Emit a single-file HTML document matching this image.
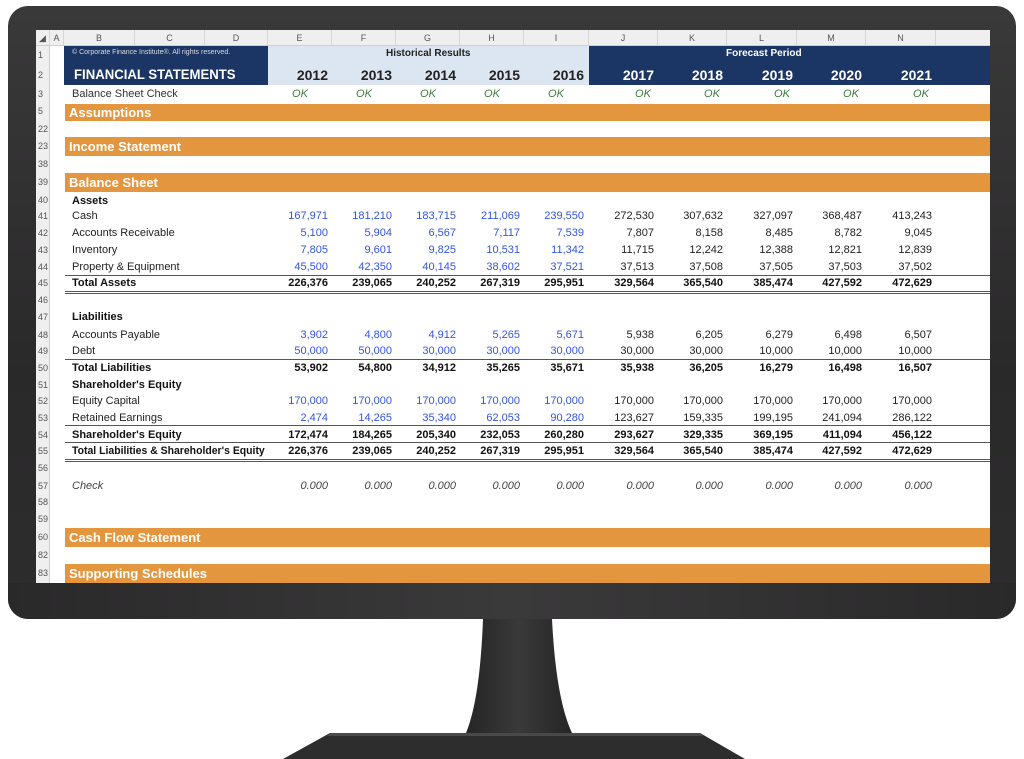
<!DOCTYPE html>
<html><head><meta charset="utf-8"><style>
*{margin:0;padding:0;box-sizing:border-box}
body{width:1024px;height:759px;background:#fff;position:relative;overflow:hidden;font-family:"Liberation Sans",Arial,sans-serif}
.a{position:absolute}
#bezel{left:8px;top:6px;width:1008px;height:613px;border-radius:20px;background:linear-gradient(#3a393a,#2a292a 60%,#2e2d2e);}
#chin{left:8px;top:583px;width:1008px;height:36px;border-radius:0 0 20px 20px;background:linear-gradient(90deg,#2a292a,#3b3a3b 50%,#2a292a)}
#screen{left:36px;top:30px;width:954px;height:553px;background:#fff;overflow:hidden}
.hdr{top:0;height:16px;background:#efefef;border-bottom:1px solid #cfcfcf;border-right:1px solid #d6d6d6;font-size:9px;color:#555;text-align:center;line-height:16px}
.rn{left:0;width:14px;font-size:9px;color:#555;text-align:left;padding-left:2px}
.row{position:absolute;left:0;width:954px;height:16px;line-height:16px;font-size:11px;color:#222}
.row span{position:absolute;text-align:right;width:80px}
.row span.rn{left:0;width:14px;text-align:left;font-size:9px;color:#555;font-weight:normal;font-style:normal}
.lbl{left:36px}
.b{font-weight:bold;color:#111}
.bl{color:#3355dd}
.it{font-style:italic;color:#444}
.or{left:29px;width:925px;background:#e3963e;color:#fff;font-weight:bold;font-size:13px;padding-left:4px}
.ln{position:absolute;left:29px;width:925px;height:1px;background:#555}
</style></head><body>
<div class="a" id="bezel"></div>
<div class="a" id="chin"></div>
<svg class="a" style="left:0;top:619px" width="1024" height="140">
<defs><linearGradient id="g" x1="0" x2="1"><stop offset="0" stop-color="#262526"/><stop offset=".5" stop-color="#3a393a"/><stop offset="1" stop-color="#262526"/></linearGradient></defs>
<path d="M483 0 L552 0 Q556 80 572 114 L466 114 Q480 80 483 0Z" fill="url(#g)"/>
<path d="M330 114 L700 114 L745 140 L283 140Z" fill="#2e2d2e"/>
<path d="M330 114 L700 114 L703 117 L327 117Z" fill="#4a494a"/>
</svg>
<div class="a" id="screen">
<div class="a" style="left:0;top:0;width:954px;height:16px;background:#efefef;border-bottom:1px solid #cfcfcf"></div>
<div class="a hdr" style="left:0;width:14px">◢</div>
<div class="a hdr" style="left:14px;width:14px">A</div>
<div class="a hdr" style="left:28px;width:71px">B</div>
<div class="a hdr" style="left:99px;width:70px">C</div>
<div class="a hdr" style="left:169px;width:63px">D</div>
<div class="a hdr" style="left:232px;width:64px">E</div>
<div class="a hdr" style="left:296px;width:64px">F</div>
<div class="a hdr" style="left:360px;width:64px">G</div>
<div class="a hdr" style="left:424px;width:64px">H</div>
<div class="a hdr" style="left:488px;width:65px">I</div>
<div class="a hdr" style="left:553px;width:69px">J</div>
<div class="a hdr" style="left:622px;width:69px">K</div>
<div class="a hdr" style="left:691px;width:70px">L</div>
<div class="a hdr" style="left:761px;width:69px">M</div>
<div class="a hdr" style="left:830px;width:70px">N</div>
<div class="a" style="left:0;top:16px;width:14px;height:537px;background:#efefef;border-right:1px solid #cfcfcf"></div>
<div class="a" style="left:28px;top:16px;width:204px;height:39px;background:#1b3564"></div>
<div class="a" style="left:232px;top:16px;width:321px;height:39px;background:#dce6f2"></div>
<div class="a" style="left:553px;top:16px;width:401px;height:39px;background:#1b3564"></div>
<div class="a" style="left:36px;top:19px;font-size:7px;color:#ddd">© Corporate Finance Institute®. All rights reserved.</div>
<div class="a" style="left:38px;top:36px;font-size:14px;font-weight:bold;color:#fff;transform:scaleX(0.94);transform-origin:left">FINANCIAL STATEMENTS</div>
<div class="a" style="left:350px;top:18px;font-size:10px;font-weight:bold;color:#222">Historical Results</div>
<div class="a" style="left:690px;top:18px;font-size:10px;font-weight:bold;color:#fff">Forecast Period</div>
<div class="row" style="top:36px;font-size:14px;font-weight:bold;height:18px;line-height:18px"><span style="left:212px;color:#222">2012</span><span style="left:276px;color:#222">2013</span><span style="left:340px;color:#222">2014</span><span style="left:404px;color:#222">2015</span><span style="left:468px;color:#222">2016</span><span style="left:538px;color:#fff">2017</span><span style="left:607px;color:#fff">2018</span><span style="left:677px;color:#fff">2019</span><span style="left:746px;color:#fff">2020</span><span style="left:816px;color:#fff">2021</span></div>
<div class="row" style="top:56px;color:#333"><span class="rn">3</span><span class="lbl" style="text-align:left;width:150px">Balance Sheet Check</span><span class="it" style="left:244px;width:40px;text-align:center;color:#3a7a3a">OK</span><span class="it" style="left:308px;width:40px;text-align:center;color:#3a7a3a">OK</span><span class="it" style="left:372px;width:40px;text-align:center;color:#3a7a3a">OK</span><span class="it" style="left:436px;width:40px;text-align:center;color:#3a7a3a">OK</span><span class="it" style="left:500px;width:40px;text-align:center;color:#3a7a3a">OK</span><span class="it" style="left:587px;width:40px;text-align:center;color:#3a7a3a">OK</span><span class="it" style="left:656px;width:40px;text-align:center;color:#3a7a3a">OK</span><span class="it" style="left:726px;width:40px;text-align:center;color:#3a7a3a">OK</span><span class="it" style="left:795px;width:40px;text-align:center;color:#3a7a3a">OK</span><span class="it" style="left:865px;width:40px;text-align:center;color:#3a7a3a">OK</span></div>
<div class="a rn" style="top:20px">1</div>
<div class="a rn" style="top:40px">2</div>
<div class="a or" style="top:74px;height:17px;line-height:17px">Assumptions</div>
<div class="a or" style="top:107px;height:19px;line-height:19px">Income Statement</div>
<div class="a or" style="top:143px;height:19px;line-height:19px">Balance Sheet</div>
<div class="a or" style="top:498px;height:19px;line-height:19px">Cash Flow Statement</div>
<div class="a or" style="top:534px;height:19px;line-height:19px">Supporting Schedules</div>
<div class="a rn" style="top:76px">5</div>
<div class="a rn" style="top:94px">22</div>
<div class="a rn" style="top:111px">23</div>
<div class="a rn" style="top:129px">38</div>
<div class="a rn" style="top:147px">39</div>
<div class="a rn" style="top:502px">60</div>
<div class="a rn" style="top:520px">82</div>
<div class="a rn" style="top:538px">83</div>
<div class="a rn" style="top:165px">40</div>
<div class="a b" style="left:36px;top:165px;font-size:11px">Assets</div>
<div class="row" style="top:178px"><span class="rn">41</span><span class="lbl" style="text-align:left;width:160px">Cash</span><span class="bl" style="left:212px">167,971</span><span class="bl" style="left:276px">181,210</span><span class="bl" style="left:340px">183,715</span><span class="bl" style="left:404px">211,069</span><span class="bl" style="left:468px">239,550</span><span style="left:538px">272,530</span><span style="left:607px">307,632</span><span style="left:677px">327,097</span><span style="left:746px">368,487</span><span style="left:816px">413,243</span></div>
<div class="row" style="top:195px"><span class="rn">42</span><span class="lbl" style="text-align:left;width:160px">Accounts Receivable</span><span class="bl" style="left:212px">5,100</span><span class="bl" style="left:276px">5,904</span><span class="bl" style="left:340px">6,567</span><span class="bl" style="left:404px">7,117</span><span class="bl" style="left:468px">7,539</span><span style="left:538px">7,807</span><span style="left:607px">8,158</span><span style="left:677px">8,485</span><span style="left:746px">8,782</span><span style="left:816px">9,045</span></div>
<div class="row" style="top:212px"><span class="rn">43</span><span class="lbl" style="text-align:left;width:160px">Inventory</span><span class="bl" style="left:212px">7,805</span><span class="bl" style="left:276px">9,601</span><span class="bl" style="left:340px">9,825</span><span class="bl" style="left:404px">10,531</span><span class="bl" style="left:468px">11,342</span><span style="left:538px">11,715</span><span style="left:607px">12,242</span><span style="left:677px">12,388</span><span style="left:746px">12,821</span><span style="left:816px">12,839</span></div>
<div class="row" style="top:229px"><span class="rn">44</span><span class="lbl" style="text-align:left;width:160px">Property &amp; Equipment</span><span class="bl" style="left:212px">45,500</span><span class="bl" style="left:276px">42,350</span><span class="bl" style="left:340px">40,145</span><span class="bl" style="left:404px">38,602</span><span class="bl" style="left:468px">37,521</span><span style="left:538px">37,513</span><span style="left:607px">37,508</span><span style="left:677px">37,505</span><span style="left:746px">37,503</span><span style="left:816px">37,502</span></div>
<div class="ln" style="top:245px"></div>
<div class="row b" style="top:245px"><span class="rn">45</span><span class="lbl" style="text-align:left;width:160px">Total Assets</span><span style="left:212px">226,376</span><span style="left:276px">239,065</span><span style="left:340px">240,252</span><span style="left:404px">267,319</span><span style="left:468px">295,951</span><span style="left:538px">329,564</span><span style="left:607px">365,540</span><span style="left:677px">385,474</span><span style="left:746px">427,592</span><span style="left:816px">472,629</span></div>
<div class="ln" style="top:261px;height:3px;border-top:1px solid #555;border-bottom:1px solid #555;background:#fff"></div>
<div class="a rn" style="top:265px">46</div>
<div class="a rn" style="top:282px">47</div>
<div class="a b" style="left:36px;top:281px;font-size:11px">Liabilities</div>
<div class="row" style="top:297px"><span class="rn">48</span><span class="lbl" style="text-align:left;width:160px">Accounts Payable</span><span class="bl" style="left:212px">3,902</span><span class="bl" style="left:276px">4,800</span><span class="bl" style="left:340px">4,912</span><span class="bl" style="left:404px">5,265</span><span class="bl" style="left:468px">5,671</span><span style="left:538px">5,938</span><span style="left:607px">6,205</span><span style="left:677px">6,279</span><span style="left:746px">6,498</span><span style="left:816px">6,507</span></div>
<div class="row" style="top:313px"><span class="rn">49</span><span class="lbl" style="text-align:left;width:160px">Debt</span><span class="bl" style="left:212px">50,000</span><span class="bl" style="left:276px">50,000</span><span class="bl" style="left:340px">30,000</span><span class="bl" style="left:404px">30,000</span><span class="bl" style="left:468px">30,000</span><span style="left:538px">30,000</span><span style="left:607px">30,000</span><span style="left:677px">10,000</span><span style="left:746px">10,000</span><span style="left:816px">10,000</span></div>
<div class="ln" style="top:329px"></div>
<div class="row b" style="top:330px"><span class="rn">50</span><span class="lbl" style="text-align:left;width:160px">Total Liabilities</span><span style="left:212px">53,902</span><span style="left:276px">54,800</span><span style="left:340px">34,912</span><span style="left:404px">35,265</span><span style="left:468px">35,671</span><span style="left:538px">35,938</span><span style="left:607px">36,205</span><span style="left:677px">16,279</span><span style="left:746px">16,498</span><span style="left:816px">16,507</span></div>
<div class="row b" style="top:347px"><span class="rn">51</span><span class="lbl" style="text-align:left;width:200px">Shareholder's Equity</span></div>
<div class="row" style="top:363px"><span class="rn">52</span><span class="lbl" style="text-align:left;width:160px">Equity Capital</span><span class="bl" style="left:212px">170,000</span><span class="bl" style="left:276px">170,000</span><span class="bl" style="left:340px">170,000</span><span class="bl" style="left:404px">170,000</span><span class="bl" style="left:468px">170,000</span><span style="left:538px">170,000</span><span style="left:607px">170,000</span><span style="left:677px">170,000</span><span style="left:746px">170,000</span><span style="left:816px">170,000</span></div>
<div class="row" style="top:380px"><span class="rn">53</span><span class="lbl" style="text-align:left;width:160px">Retained Earnings</span><span class="bl" style="left:212px">2,474</span><span class="bl" style="left:276px">14,265</span><span class="bl" style="left:340px">35,340</span><span class="bl" style="left:404px">62,053</span><span class="bl" style="left:468px">90,280</span><span style="left:538px">123,627</span><span style="left:607px">159,335</span><span style="left:677px">199,195</span><span style="left:746px">241,094</span><span style="left:816px">286,122</span></div>
<div class="ln" style="top:395px"></div>
<div class="row b" style="top:397px"><span class="rn">54</span><span class="lbl" style="text-align:left;width:200px">Shareholder's Equity</span><span style="left:212px">172,474</span><span style="left:276px">184,265</span><span style="left:340px">205,340</span><span style="left:404px">232,053</span><span style="left:468px">260,280</span><span style="left:538px">293,627</span><span style="left:607px">329,335</span><span style="left:677px">369,195</span><span style="left:746px">411,094</span><span style="left:816px">456,122</span></div>
<div class="ln" style="top:412px"></div>
<div class="row b" style="top:413px"><span class="rn">55</span><span class="lbl" style="text-align:left;width:220px;transform:scaleX(0.95);transform-origin:left">Total Liabilities &amp; Shareholder's Equity</span><span style="left:212px">226,376</span><span style="left:276px">239,065</span><span style="left:340px">240,252</span><span style="left:404px">267,319</span><span style="left:468px">295,951</span><span style="left:538px">329,564</span><span style="left:607px">365,540</span><span style="left:677px">385,474</span><span style="left:746px">427,592</span><span style="left:816px">472,629</span></div>
<div class="ln" style="top:429px;height:3px;border-top:1px solid #555;border-bottom:1px solid #555;background:#fff"></div>
<div class="a rn" style="top:433px">56</div>
<div class="row" style="top:448px"><span class="rn">57</span><span class="lbl it" style="text-align:left;width:160px">Check</span><span class="it" style="left:212px">0.000</span><span class="it" style="left:276px">0.000</span><span class="it" style="left:340px">0.000</span><span class="it" style="left:404px">0.000</span><span class="it" style="left:468px">0.000</span><span class="it" style="left:538px">0.000</span><span class="it" style="left:607px">0.000</span><span class="it" style="left:677px">0.000</span><span class="it" style="left:746px">0.000</span><span class="it" style="left:816px">0.000</span></div>
<div class="a rn" style="top:467px">58</div>
<div class="a rn" style="top:484px">59</div>
</div>
</body></html>
